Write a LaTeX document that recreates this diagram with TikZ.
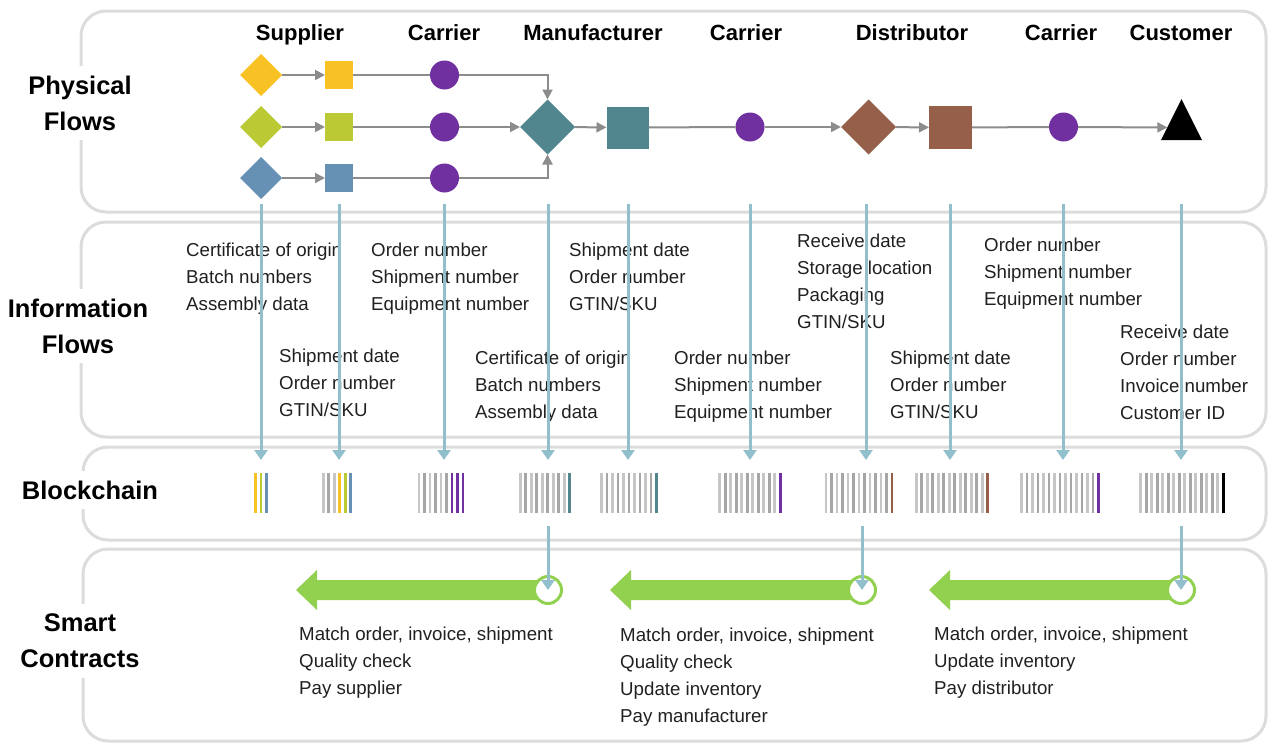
\documentclass[tikz,border=0pt]{standalone}
\usepackage{fontspec}
\setmainfont{Liberation Sans}
\usetikzlibrary{arrows.meta,shapes.geometric}

\definecolor{supyel}{HTML}{F8C124}
\definecolor{suplim}{HTML}{BBC934}
\definecolor{supblu}{HTML}{6690B4}
\definecolor{mfteal}{HTML}{52868F}
\definecolor{dsbrown}{HTML}{955F4A}
\definecolor{carpurp}{HTML}{7030A0}
\definecolor{flowgray}{HTML}{8C8C8C}
\definecolor{infoblue}{HTML}{92BFCC}
\definecolor{panelgray}{HTML}{DCDCDC}
\definecolor{contractgreen}{HTML}{92D050}
\definecolor{barA}{HTML}{A6A6A6}
\definecolor{barB}{HTML}{C6C6C6}
\definecolor{txtgray}{HTML}{202020}

% one block of the chain: name, centre x, grey bars, coloured bars
\newcommand\chainblock[4]{%
  \node[block] (#1) at (#2,493) {};
  \foreach \c [count=\j] in {#4} {\xdef\ncol{\j}}
  \pgfmathtruncatemacro\nbars{#3+\ncol}
  \ifnum#3>0
  \foreach \k in {1,...,#3} {
    \ifodd\k \def\barcol{barB}\else \def\barcol{barA}\fi
    \draw[bar,\barcol] (#1.center) ++({(\k-(\nbars+1)/2)*5.5},-20) -- ++(0,40);
  }
  \fi
  \foreach \c [count=\j] in {#4}
    \draw[bar,\c] (#1.center) ++({(#3+\j-(\nbars+1)/2)*5.5},-20) -- ++(0,40);
}

\begin{document}
\begin{tikzpicture}[x=1pt,y=1pt,yscale=-1,xscale=1,
  panel/.style={draw=panelgray, line width=3, rounded corners=25},
  rowlabel/.style={fill=white, align=center, inner xsep=3, inner ysep=10, font=\bfseries\fontsize{25.5}{36}\selectfont},
  actor/.style={anchor=base, font=\bfseries\fontsize{22}{26}\selectfont},
  infotext/.style={anchor=north west, align=left, inner sep=0, text=txtgray, font=\fontsize{18.7}{27}\selectfont},
  dia/.style={diamond, inner sep=0, outer sep=0, minimum width=#1, minimum height=#1},
  sq/.style={rectangle, inner sep=0, outer sep=0, minimum size=#1},
  carrier/.style={circle, fill=carpurp, inner sep=0, outer sep=0, minimum size=29},
  flow/.style={draw=flowgray, line width=2, -{Triangle[length=10,width=10]}},
  flowline/.style={draw=flowgray, line width=2},
  info/.style={draw=infoblue, line width=3, -{Triangle[length=10,width=13]}},
  block/.style={inner sep=0, outer sep=0, minimum width=4, minimum height=66},
  bar/.style={line width=2.8},
  seal/.style={circle, draw=contractgreen, line width=3, fill=white, minimum size=27, inner sep=0}]
\useasboundingbox (0,0) rectangle (1269,744);

%Shape: Panels
\draw[panel] (81,11) rectangle (1266,212);
\draw[panel] (81,222) rectangle (1266,437);
\draw[panel] (83,447) rectangle (1266,540);
\draw[panel] (83,549) rectangle (1266,741);

% Row labels
\node[rowlabel] (lphys) at (80,103) {Physical\\Flows};
\node[rowlabel] (linfo) at (78,326) {Information\\Flows};
\node[rowlabel] (lchain) at (90,490) {Blockchain};
\node[rowlabel] (lsmart) at (80,641) {Smart\\Contracts};

% Actors
\node[actor] (hsup) at (300,40) {Supplier};
\node[actor] (hcar1) at (444,40) {Carrier};
\node[actor] (hman) at (593,40) {Manufacturer};
\node[actor] (hcar2) at (746,40) {Carrier};
\node[actor] (hdis) at (912,40) {Distributor};
\node[actor] (hcar3) at (1061,40) {Carrier};
\node[actor] (hcus) at (1181,40) {Customer};

%Shape: Supplier parts
\node[dia=42, fill=supyel] (sd1) at (261,75) {};
\node[dia=42, fill=suplim] (sd2) at (261,127) {};
\node[dia=42, fill=supblu] (sd3) at (261,178) {};
\node[sq=28, fill=supyel] (ss1) at (339,75) {};
\node[sq=28, fill=suplim] (ss2) at (339,127) {};
\node[sq=28, fill=supblu] (ss3) at (339,178) {};
%Shape: Carriers
\node[carrier] (cp1) at (444.5,75) {};
\node[carrier] (cp2) at (444.5,127) {};
\node[carrier] (cp3) at (444.5,178) {};
\node[carrier] (cp4) at (750,127) {};
\node[carrier] (cp5) at (1063.5,127) {};
%Shape: Manufacturer
\node[dia=55, fill=mfteal] (md) at (547.5,127) {};
\node[sq=42, fill=mfteal] (ms) at (627.5,127.5) {};
%Shape: Distributor
\node[dia=55, fill=dsbrown] (dd) at (868.5,127) {};
\node[sq=43, fill=dsbrown] (ds) at (950.5,127.5) {};
%Shape: Customer
\node[isosceles triangle, isosceles triangle stretches, shape border rotate=90, fill=black,
  inner sep=0, outer sep=0, minimum width=41, minimum height=41] (cust) at (1181.5,127.5) {};

%Straight Lines: physical flow
\draw[flow] (sd1) -- (ss1);
\draw[flowline] (ss1) -- (cp1);
\draw[flow] (cp1) -| (md);
\draw[flow] (sd2) -- (ss2);
\draw[flowline] (ss2) -- (cp2);
\draw[flow] (cp2) -- (md);
\draw[flow] (sd3) -- (ss3);
\draw[flowline] (ss3) -- (cp3);
\draw[flow] (cp3) -| (md);
\draw[flow] (md) -- (ms);
\draw[flowline] (ms) -- (cp4);
\draw[flow] (cp4) -- (dd);
\draw[flow] (dd) -- (ds);
\draw[flowline] (ds) -- (cp5);
\draw[flow] (cp5) -- (cust);

% Text Node
\node[infotext] (i1) at (186,242.5) {Certificate of origin\\Batch numbers\\Assembly data};
% Text Node
\node[infotext] (i2) at (371,242.5) {Order number\\Shipment number\\Equipment number};
% Text Node
\node[infotext] (i3) at (569,242.5) {Shipment date\\Order number\\GTIN/SKU};
% Text Node
\node[infotext] (i4) at (797,233.5) {Receive date\\Storage location\\Packaging\\GTIN/SKU};
% Text Node
\node[infotext] (i5) at (984,238) {Order number\\Shipment number\\Equipment number};
% Text Node
\node[infotext] (i6) at (279,348.5) {Shipment date\\Order number\\GTIN/SKU};
% Text Node
\node[infotext] (i7) at (475,351) {Certificate of origin\\Batch numbers\\Assembly data};
% Text Node
\node[infotext] (i8) at (674,351) {Order number\\Shipment number\\Equipment number};
% Text Node
\node[infotext] (i9) at (890,351) {Shipment date\\Order number\\GTIN/SKU};
% Text Node
\node[infotext] (i10) at (1120,324.5) {Receive date\\Order number\\Invoice number\\Customer ID};

% Blockchain
\chainblock{b1}{261}{0}{supyel,suplim,supblu}
\chainblock{b2}{337}{3}{supyel,suplim,supblu}
\chainblock{b3}{441}{6}{carpurp,carpurp,carpurp}
\chainblock{b4}{545}{9}{mfteal}
\chainblock{b5}{629}{10}{mfteal}
\chainblock{b6}{750}{11}{carpurp}
\chainblock{b7}{859}{12}{dsbrown}
\chainblock{b8}{952}{13}{dsbrown}
\chainblock{b9}{1060}{14}{carpurp}
\chainblock{b10}{1182}{15}{black}

%Straight Lines: information flow
\coordinate (t1) at (261,204);
\coordinate (t2) at (339,204);
\coordinate (t3) at (444,204);
\coordinate (t4) at (548,204);
\coordinate (t5) at (628,204);
\coordinate (t6) at (750,204);
\coordinate (t7) at (866,204);
\coordinate (t8) at (950,204);
\coordinate (t9) at (1063,204);
\coordinate (t10) at (1181,204);
\draw[info] (t1) -- (t1 |- b1.north);
\draw[info] (t2) -- (t2 |- b2.north);
\draw[info] (t3) -- (t3 |- b3.north);
\draw[info] (t4) -- (t4 |- b4.north);
\draw[info] (t5) -- (t5 |- b5.north);
\draw[info] (t6) -- (t6 |- b6.north);
\draw[info] (t7) -- (t7 |- b7.north);
\draw[info] (t8) -- (t8 |- b8.north);
\draw[info] (t9) -- (t9 |- b9.north);
\draw[info] (t10) -- (t10 |- b10.north);

%Shape: Smart contract arrows
\fill[contractgreen] (548,580) -- (317,580) -- (317,570) -- (296,590) -- (317,610) -- (317,600) -- (548,600) -- cycle;
\fill[contractgreen] (862,580) -- (631,580) -- (631,570) -- (610,590) -- (631,610) -- (631,600) -- (862,600) -- cycle;
\fill[contractgreen] (1181,580) -- (950,580) -- (950,570) -- (929,590) -- (950,610) -- (950,600) -- (1181,600) -- cycle;
\node[seal] (sc1) at (548,590) {};
\node[seal] (sc2) at (862,590) {};
\node[seal] (sc3) at (1181,590) {};
\draw[info] (sc1 |- b4.south) -- (sc1.center);
\draw[info] (sc2 |- b7.south) -- (sc2.center);
\draw[info] (sc3 |- b10.south) -- (sc3.center);

% Text Node
\node[infotext] (k1) at (299,626.5) {Match order, invoice, shipment\\Quality check\\Pay supplier};
% Text Node
\node[infotext] (k2) at (620,627.5) {Match order, invoice, shipment\\Quality check\\Update inventory\\Pay manufacturer};
% Text Node
\node[infotext] (k3) at (934,626.5) {Match order, invoice, shipment\\Update inventory\\Pay distributor};

\end{tikzpicture}
\end{document}
